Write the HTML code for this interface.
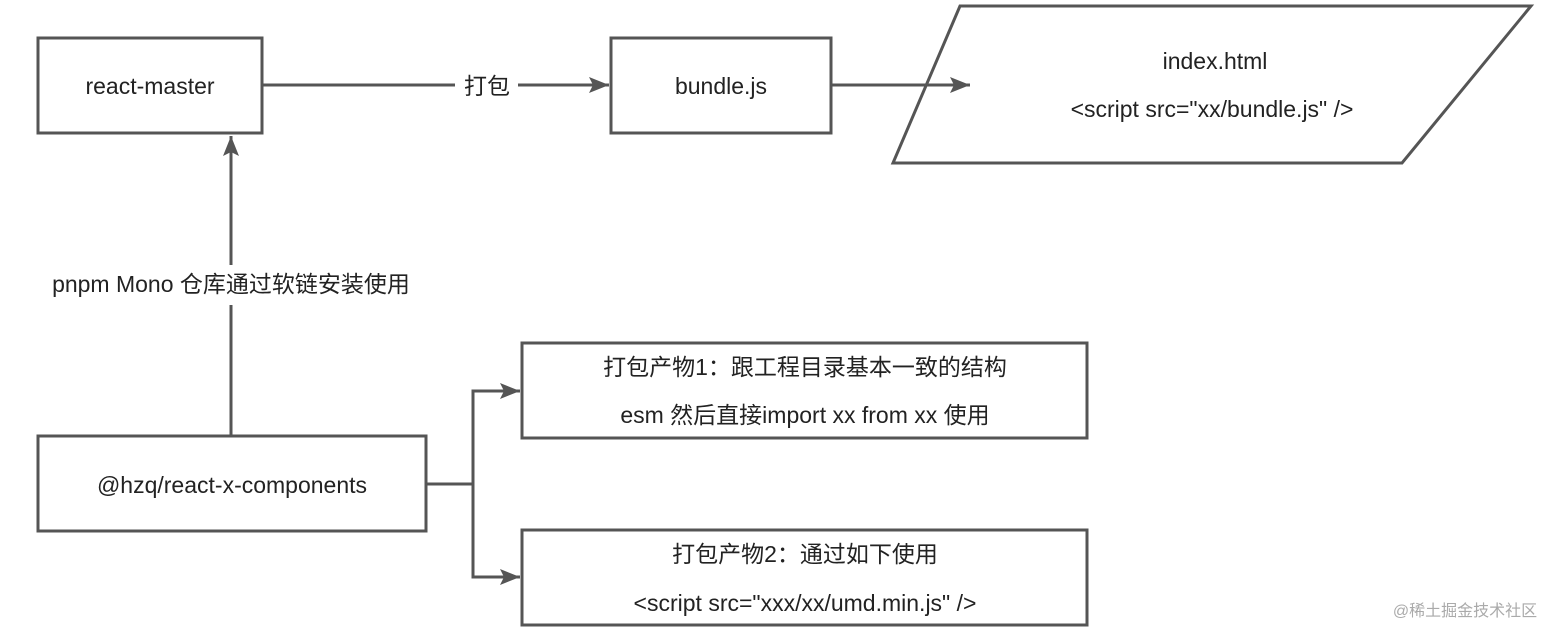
<!DOCTYPE html>
<html><head><meta charset="utf-8"><style>
html,body{margin:0;padding:0;background:#fff;}
svg text{font-family:"Liberation Sans","Noto Sans CJK SC",sans-serif;font-size:23px;fill:#222;text-anchor:middle;}
</style></head><body>
<svg width="1550" height="630" viewBox="0 0 1550 630" xmlns="http://www.w3.org/2000/svg">
<defs><marker id="a" markerWidth="10" markerHeight="10" refX="9" refY="5" orient="auto" markerUnits="userSpaceOnUse"><path d="M0,0 L22,5 L0,10 Z" fill="#555" transform="scale(0.45,1)"/></marker>
<marker id="b" viewBox="0 0 20 16" markerWidth="20" markerHeight="16" refX="20" refY="8" orient="auto" markerUnits="userSpaceOnUse"><path d="M0,0 L20,8 L0,16 L4,8 Z" fill="#555"/></marker></defs>
<g fill="none" stroke="#555" stroke-width="3">
<rect x="38" y="38" width="224" height="95"/>
<rect x="611" y="38" width="220" height="95"/>
<polygon points="960,6 1531,6 1402,163 893,163"/>
<rect x="38" y="436" width="388" height="95"/>
<rect x="522" y="343" width="565" height="95"/>
<rect x="522" y="530" width="565" height="95"/>
<path d="M262,85 H455 M518,85 H609" marker-end="url(#b)"/>
<path d="M831,85 H970" marker-end="url(#b)"/>
<path d="M231,300 V136" marker-end="url(#b)"/>
<path d="M231,305 V436"/>
<path d="M426,484 H473 V391 H520" marker-end="url(#b)"/>
<path d="M473,484 V577 H520" marker-end="url(#b)"/>
</g>
<rect x="455" y="70" width="62" height="32" fill="#fff"/>
<text x="150" y="94">react-master</text>
<text x="487" y="94">打包</text>
<text x="721" y="94">bundle.js</text>
<text x="1215" y="69">index.html</text>
<text x="1212" y="117">&lt;script src="xx/bundle.js" /&gt;</text>
<rect x="10" y="265" width="442" height="38" fill="#fff"/>
<text x="231" y="292">pnpm Mono 仓库通过软链安装使用</text>
<text x="232" y="493">@hzq/react-x-components</text>
<text x="805" y="375">打包产物1：跟工程目录基本一致的结构</text>
<text x="805" y="423">esm 然后直接import  xx from xx 使用</text>
<text x="805" y="562">打包产物2：通过如下使用</text>
<text x="805" y="611">&lt;script src="xxx/xx/umd.min.js" /&gt;</text>
<text x="1465" y="616" style="font-size:16px;fill:#aaa">@稀土掘金技术社区</text>
</svg>
</body></html>
